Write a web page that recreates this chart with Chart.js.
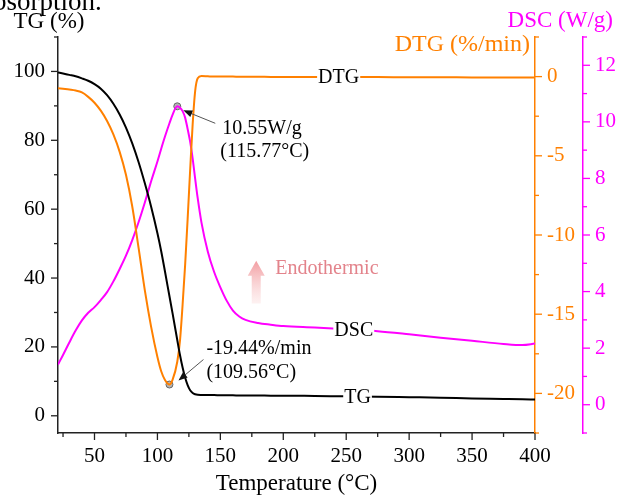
<!DOCTYPE html>
<html>
<head>
<meta charset="utf-8">
<script src="https://cdn.jsdelivr.net/npm/chart.js@4.4.0/dist/chart.umd.min.js"></script>
<style>
  html, body { margin: 0; padding: 0; background: #fff; }
  canvas { display: block; }
</style>
</head>
<body>
<canvas id="tgChart" width="619" height="495"></canvas>
<script>
const SERIF = '"Liberation Serif", "Times New Roman", serif';
const ORANGE = '#ff8000';
const MAGENTA = '#ff00ff';

// temperature (°C) shared by the three curves
const TEMP = [21, 25, 30, 35, 40, 45, 50, 55, 60, 65, 70, 75, 80, 85, 90, 95, 100, 103, 106, 109.56,
  112, 115.77, 118, 120, 122, 124, 126, 128, 130, 132, 135, 140, 145, 150, 155, 160, 165, 170,
  180, 190, 200, 225, 250, 275, 300, 325, 350, 375, 390, 400];

// TG (%)
const TG = [99.7, 99.4, 99.0, 98.6, 98.0, 97.3, 96.3, 95.0, 93.1, 90.6, 87.5, 83.7, 79.1, 73.7, 67.5, 60.7, 53.0, 47.8, 41.9, 34.7,
  29.8, 22.0, 17.5, 14.0, 11.1, 8.9, 7.4, 6.6, 6.25, 6.1, 6.05, 6.0, 6.0, 5.95, 5.95, 5.95, 5.9, 5.9,
  5.9, 5.85, 5.85, 5.75, 5.65, 5.55, 5.4, 5.25, 5.05, 4.9, 4.8, 4.7];

// DTG (%/min)
const DTG = [-0.73, -0.77, -0.82, -0.88, -1.0, -1.28, -1.65, -2.15, -2.8, -3.65, -4.75, -6.2, -8.2, -10.8, -13.5, -15.8, -17.7, -18.6, -19.15, -19.44,
  -19.15, -18.0, -16.6, -14.4, -11.9, -9.0, -5.9, -3.0, -0.9, -0.1, 0.04, 0.02, 0.0, 0.0, 0.0, 0.0, -0.01, -0.01,
  -0.01, -0.02, -0.02, -0.03, -0.03, -0.03, -0.04, -0.04, -0.05, -0.05, -0.06, -0.06];

// DSC (W/g)
const DSC = [1.42, 1.76, 2.2, 2.62, 2.98, 3.25, 3.45, 3.70, 3.98, 4.36, 4.80, 5.27, 5.82, 6.45, 7.15, 7.9, 8.6, 9.05, 9.48, 9.95,
  10.25, 10.55, 10.5, 10.38, 10.15, 9.75, 9.3, 8.7, 7.98, 7.3, 6.44, 5.42, 4.7, 4.15, 3.68, 3.33, 3.12, 3.0,
  2.89, 2.83, 2.78, 2.73, 2.67, 2.6, 2.49, 2.37, 2.26, 2.15, 2.11, 2.16];

const X_TICKS = [50, 100, 150, 200, 250, 300, 350, 400];
const X_MINOR = [25, 75, 125, 175, 225, 275, 325, 375];
const TG_TICKS = [0, 20, 40, 60, 80, 100];
const TG_MINOR = [10, 30, 50, 70, 90, 110];
const DTG_TICKS = [0, -5, -10, -15, -20];
const DTG_MINOR = [2.5, -2.5, -7.5, -12.5, -17.5, -22.5];
const DSC_TICKS = [0, 2, 4, 6, 8, 10, 12];
const DSC_MINOR = [13, 11, 9, 7, 5, 3, 1, -1];

const DSC_PEAK = { x: 115.77, y: 10.55 };
const DTG_PEAK = { x: 109.56, y: -19.44 };

function pts(ys) {
  return TEMP.map((t, i) => ({ x: t, y: ys[i] }));
}

function setTicks(values) {
  return scale => { scale.ticks = values.map(v => ({ value: v })); };
}

function tickMarks(ctx, scale, values, len, color) {
  ctx.save();
  ctx.strokeStyle = color;
  ctx.lineWidth = 1.3;
  values.forEach(v => {
    const p = scale.getPixelForValue(v);
    ctx.beginPath();
    if (scale.axis === 'x') {
      ctx.moveTo(p, scale.top); ctx.lineTo(p, scale.top + len);
    } else if (scale.position === 'left') {
      ctx.moveTo(scale.right, p); ctx.lineTo(scale.right - len, p);
    } else {
      ctx.moveTo(scale.left, p); ctx.lineTo(scale.left + len, p);
    }
    ctx.stroke();
  });
  ctx.restore();
}

function arrow(ctx, x1, y1, x2, y2) {
  // thin line ending in a small filled head at (x2, y2)
  const a = Math.atan2(y2 - y1, x2 - x1);
  ctx.save();
  ctx.strokeStyle = '#555';
  ctx.lineWidth = 1;
  ctx.beginPath(); ctx.moveTo(x1, y1); ctx.lineTo(x2 - 6 * Math.cos(a), y2 - 6 * Math.sin(a)); ctx.stroke();
  ctx.fillStyle = '#111';
  ctx.beginPath();
  ctx.moveTo(x2, y2);
  ctx.lineTo(x2 - 9 * Math.cos(a) + 3.5 * Math.sin(a), y2 - 9 * Math.sin(a) - 3.5 * Math.cos(a));
  ctx.lineTo(x2 - 9 * Math.cos(a) - 3.5 * Math.sin(a), y2 - 9 * Math.sin(a) + 3.5 * Math.cos(a));
  ctx.closePath(); ctx.fill();
  ctx.restore();
}

function curveLabel(ctx, text, x, y) {
  ctx.font = '20px ' + SERIF;
  const w = ctx.measureText(text).width;
  ctx.fillStyle = '#fff';
  ctx.fillRect(x - w / 2 - 1, y - 8, w + 2, 16);
  ctx.fillStyle = '#000';
  ctx.textAlign = 'center';
  ctx.textBaseline = 'middle';
  ctx.fillText(text, x, y + 1);
}

const decorPlugin = {
  id: 'decor',
  afterDraw(chart) {
    const { ctx, scales } = chart;
    const sx = scales.x, sTG = scales.yTG, sDTG = scales.yDTG, sDSC = scales.yDSC;

    // tick marks
    tickMarks(ctx, sx, X_TICKS, 7, '#222');
    tickMarks(ctx, sx, X_MINOR, 4, '#222');
    tickMarks(ctx, sTG, TG_TICKS, 7, '#222');
    tickMarks(ctx, sTG, TG_MINOR, 4, '#222');
    tickMarks(ctx, sDTG, DTG_TICKS, 7, ORANGE);
    tickMarks(ctx, sDTG, DTG_MINOR, 4, ORANGE);
    tickMarks(ctx, sDSC, DSC_TICKS, 7, MAGENTA);
    tickMarks(ctx, sDSC, DSC_MINOR, 4, MAGENTA);

    ctx.save();
    // text cut off at top of the page
    ctx.font = '27px ' + SERIF;
    ctx.fillStyle = '#000';
    ctx.textAlign = 'left';
    ctx.textBaseline = 'alphabetic';
    ctx.fillText('absorption.', -19, 10);

    // axis titles above the axes
    ctx.font = '23px ' + SERIF;
    ctx.textBaseline = 'middle';
    ctx.textAlign = 'center';
    ctx.fillStyle = '#000';
    ctx.fillText('TG (%)', 49, 22);
    ctx.textAlign = 'right';
    ctx.fillStyle = MAGENTA;
    ctx.fillText('DSC (W/g)', 613, 21);
    ctx.font = '24px ' + SERIF;
    ctx.fillStyle = ORANGE;
    ctx.fillText('DTG (%/min)', 530, 45);

    // curve labels
    curveLabel(ctx, 'DTG', sx.getPixelForValue(244), sDTG.getPixelForValue(0));
    curveLabel(ctx, 'DSC', sx.getPixelForValue(256), sDSC.getPixelForValue(2.65));
    curveLabel(ctx, 'TG', sx.getPixelForValue(259), sTG.getPixelForValue(5.5));

    // peak annotations
    ctx.font = '20px ' + SERIF;
    ctx.fillStyle = '#000';
    ctx.textAlign = 'left';
    ctx.textBaseline = 'middle';
    const px = sx.getPixelForValue(DSC_PEAK.x), py = sDSC.getPixelForValue(DSC_PEAK.y);
    arrow(ctx, px + 38, py + 17, px + 6, py + 4);
    ctx.fillText('10.55W/g', px + 45, py + 22);
    ctx.fillText('(115.77\u00B0C)', px + 43, py + 45);

    const qx = sx.getPixelForValue(DTG_PEAK.x), qy = sDTG.getPixelForValue(DTG_PEAK.y);
    arrow(ctx, qx + 34, qy - 25, qx + 9, qy - 4);
    ctx.fillText('-19.44%/min', qx + 37, qy - 36);
    ctx.fillText('(109.56\u00B0C)', qx + 37, qy - 12);

    // endothermic arrow
    const ax = sx.getPixelForValue(178.5);
    const top = sTG.getPixelForValue(45), bot = sTG.getPixelForValue(32.6);
    const g = ctx.createLinearGradient(0, top, 0, bot);
    g.addColorStop(0, 'rgba(240,140,145,0.85)');
    g.addColorStop(1, 'rgba(250,215,215,0.35)');
    ctx.fillStyle = g;
    ctx.beginPath();
    ctx.moveTo(ax, top);
    ctx.lineTo(ax + 8.5, top + 15);
    ctx.lineTo(ax + 4.5, top + 15);
    ctx.lineTo(ax + 4.5, bot);
    ctx.lineTo(ax - 4.5, bot);
    ctx.lineTo(ax - 4.5, top + 15);
    ctx.lineTo(ax - 8.5, top + 15);
    ctx.closePath();
    ctx.fill();
    ctx.fillStyle = '#e3838b';
    ctx.fillText('Endothermic', sx.getPixelForValue(193.6), sTG.getPixelForValue(42.7));
    ctx.restore();
  }
};

const lineStyle = { pointRadius: 0, borderWidth: 2, fill: false, cubicInterpolationMode: 'monotone' };
const tickFont = { family: SERIF, size: 21 };

new Chart(document.getElementById('tgChart').getContext('2d'), {
  type: 'line',
  data: {
    datasets: [
      { ...lineStyle, label: 'TG', data: pts(TG), yAxisID: 'yTG', borderColor: '#000' },
      { ...lineStyle, label: 'DTG', data: pts(DTG), yAxisID: 'yDTG', borderColor: ORANGE },
      { ...lineStyle, label: 'DSC', data: pts(DSC), yAxisID: 'yDSC', borderColor: MAGENTA },
      { type: 'scatter', label: 'DSC peak', data: [DSC_PEAK], yAxisID: 'yDSC',
        pointRadius: 3.5, pointBackgroundColor: '#b4b4b4', pointBorderColor: '#666', pointBorderWidth: 1 },
      { type: 'scatter', label: 'DTG peak', data: [DTG_PEAK], yAxisID: 'yDTG',
        pointRadius: 3.5, pointBackgroundColor: '#b4b4b4', pointBorderColor: '#666', pointBorderWidth: 1 }
    ]
  },
  options: {
    responsive: false,
    animation: false,
    devicePixelRatio: 1,
    layout: { padding: { top: 37, left: 0, right: 0, bottom: 0 } },
    plugins: { legend: { display: false }, tooltip: { enabled: false } },
    scales: {
      x: {
        type: 'linear', position: 'bottom', min: 21, max: 400,
        afterBuildTicks: setTicks(X_TICKS),
        afterFit: s => { s.height = 62; },
        grid: { display: false, drawTicks: true, tickLength: 7 },
        border: { display: true, color: '#222', width: 1.5 },
        ticks: { font: tickFont, color: '#000', padding: 4, maxRotation: 0 },
        title: { display: true, text: 'Temperature (\u00B0C)', font: { family: SERIF, size: 23 }, color: '#000', padding: { top: 0, bottom: -3 } }
      },
      yTG: {
        type: 'linear', position: 'left', min: -5, max: 110,
        afterBuildTicks: setTicks(TG_TICKS),
        afterFit: s => { s.width = 58; },
        grid: { display: false, drawTicks: true, tickLength: 7 },
        border: { display: true, color: '#222', width: 1.5 },
        ticks: { font: tickFont, color: '#000', padding: 6 }
      },
      yDTG: {
        type: 'linear', position: 'right', min: -22.5, max: 2.5, weight: 0,
        afterBuildTicks: setTicks(DTG_TICKS),
        afterFit: s => { s.width = 48; },
        grid: { display: false, drawTicks: true, tickLength: 7 },
        border: { display: true, color: ORANGE, width: 1.5 },
        ticks: { font: tickFont, color: ORANGE, padding: 5 }
      },
      yDSC: {
        type: 'linear', position: 'right', min: -1, max: 13, weight: 1,
        afterBuildTicks: setTicks(DSC_TICKS),
        afterFit: s => { s.width = 36; },
        grid: { display: false, drawTicks: true, tickLength: 7 },
        border: { display: true, color: MAGENTA, width: 1.5 },
        ticks: { font: tickFont, color: MAGENTA, padding: 5 }
      }
    }
  },
  plugins: [decorPlugin]
});
</script>
</body>
</html>
